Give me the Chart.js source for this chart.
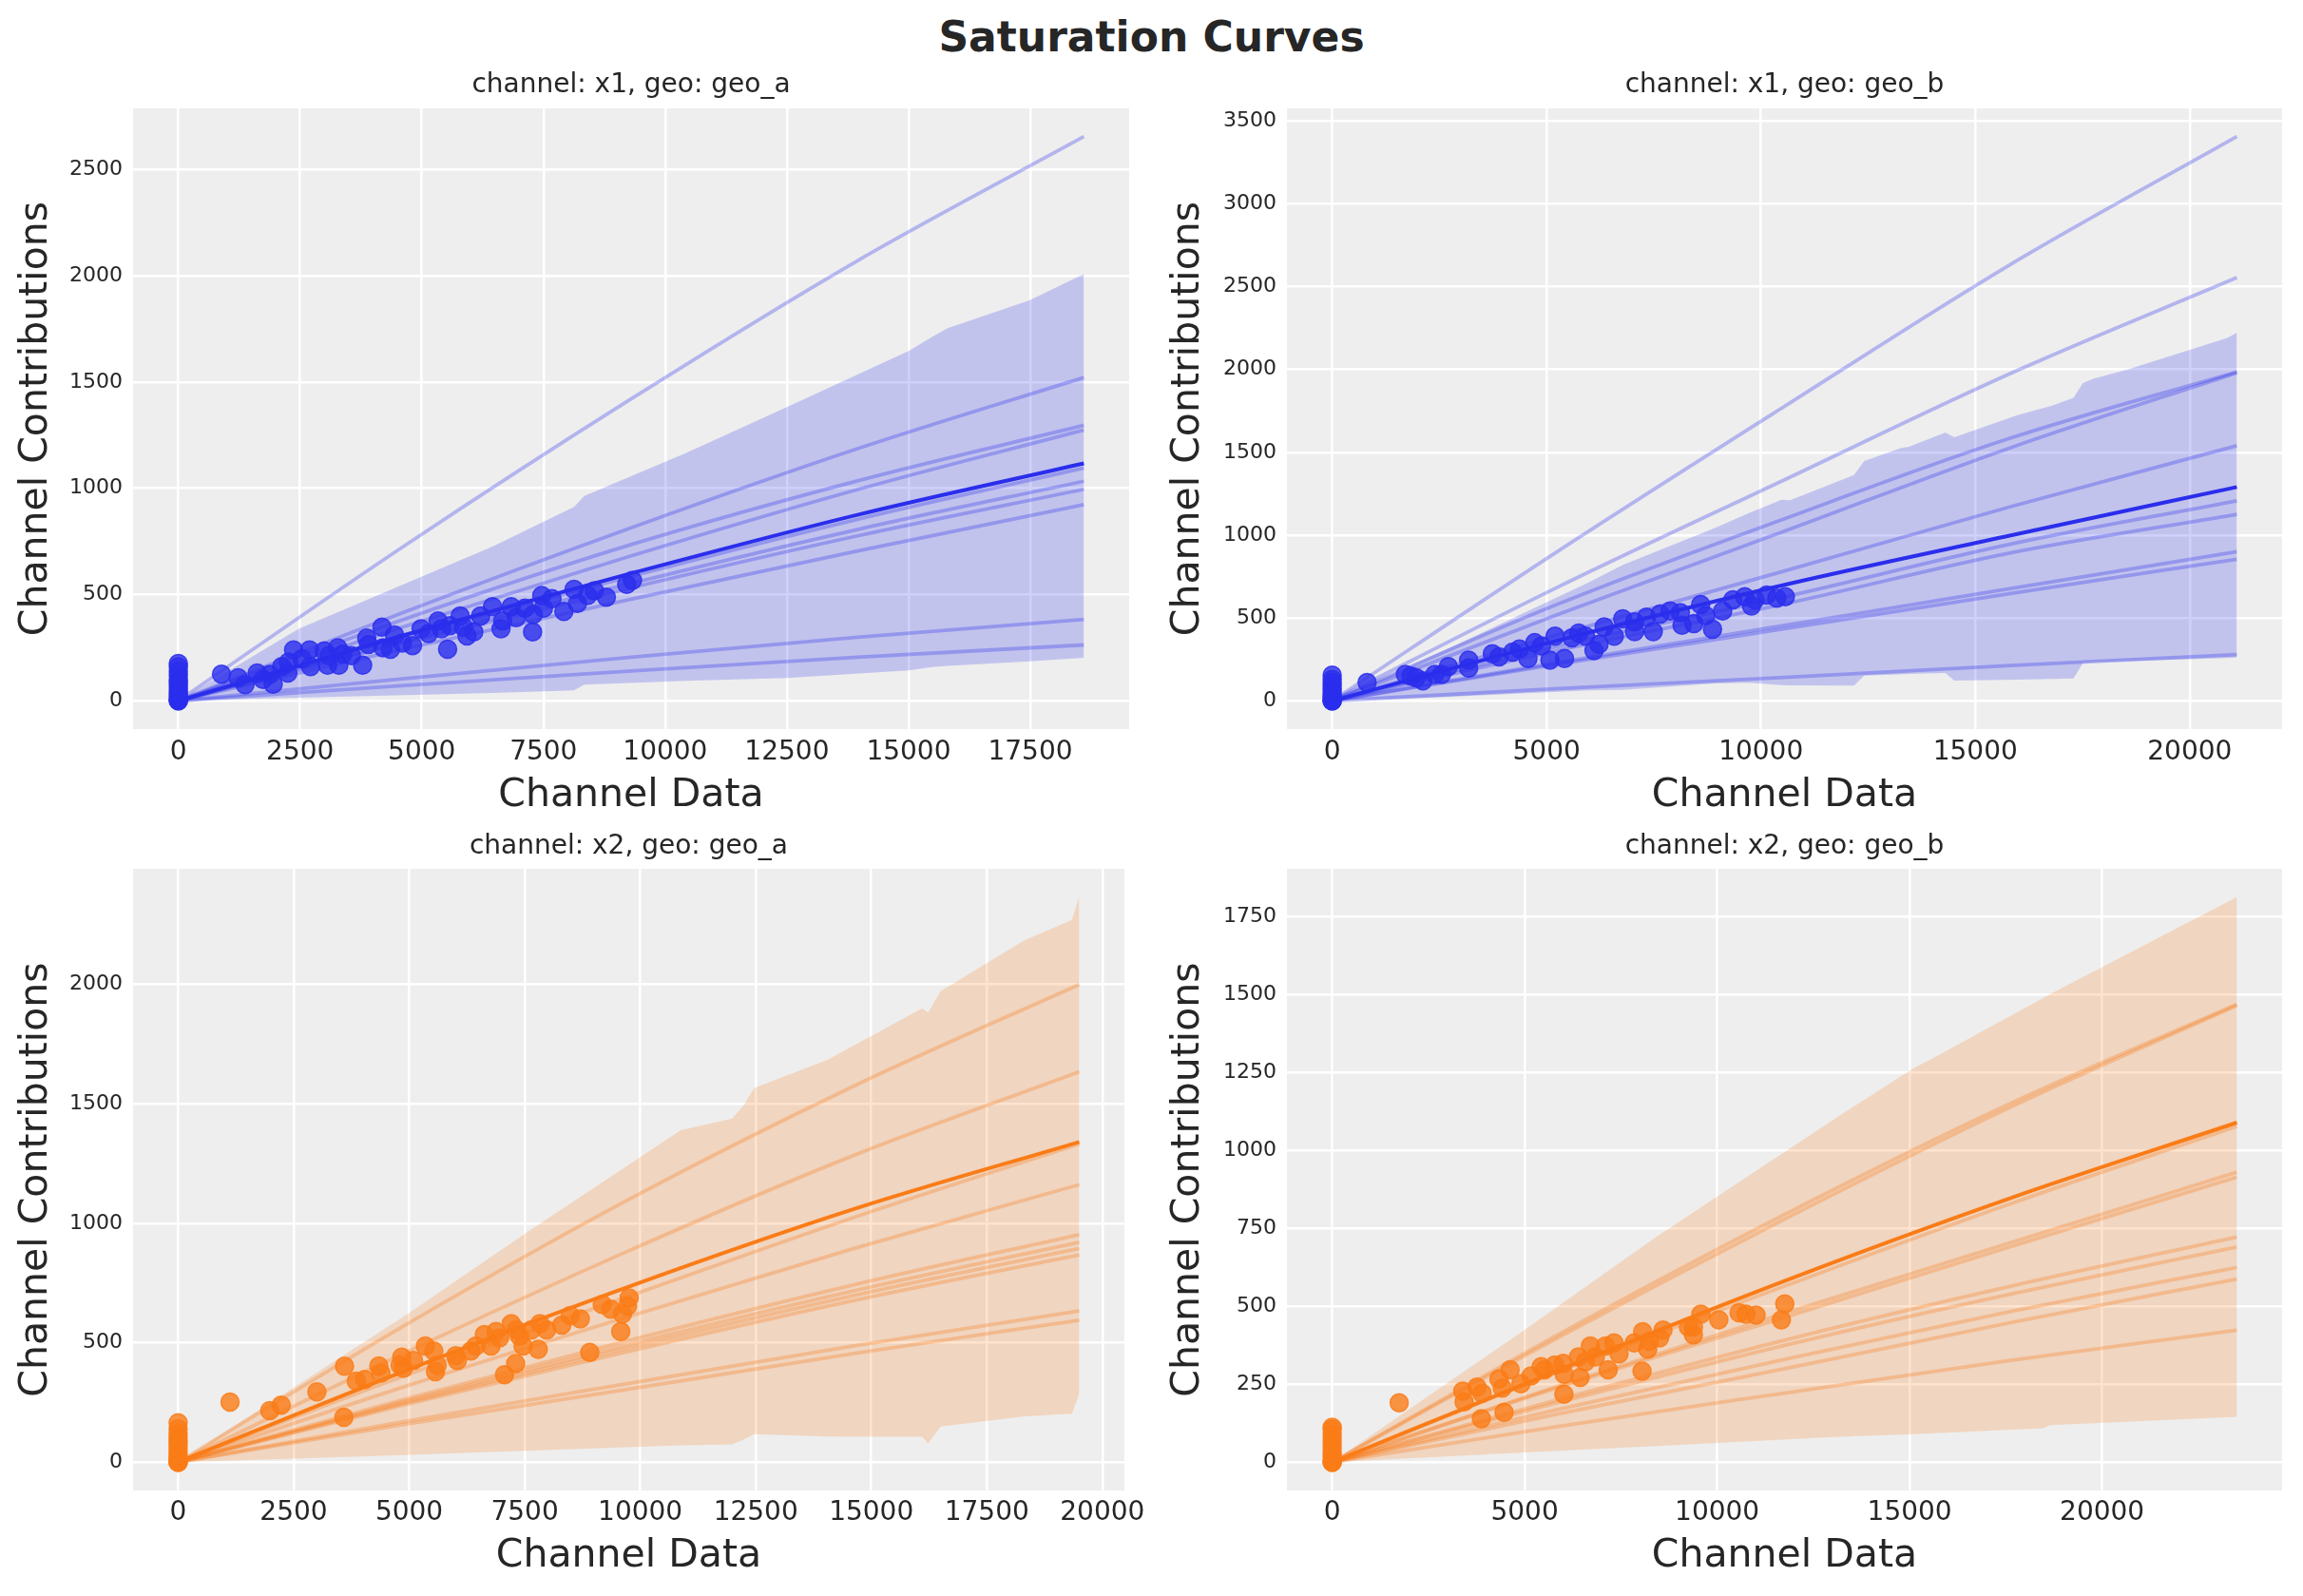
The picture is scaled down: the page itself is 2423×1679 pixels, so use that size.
<!DOCTYPE html>
<html>
<head>
<meta charset="utf-8">
<script src="https://cdn.jsdelivr.net/npm/chart.js@4.4.1/dist/chart.umd.min.js"></script>
<style>
html,body{margin:0;padding:0;background:#ffffff;}
#fig{position:relative;width:2423px;height:1679px;overflow:hidden;background:#ffffff;}
#suptitle{position:absolute;left:0;top:14px;width:2423px;text-align:center;font-family:'DejaVu Sans';font-weight:bold;font-size:44px;line-height:50px;color:#262626;}
canvas{position:absolute;}
</style>
</head>
<body>
<div id="fig">
<div id="suptitle">Saturation Curves</div>
<canvas id="c1" width="1212" height="810" style="left:0px;top:56px;width:1212px;height:810px"></canvas>
<canvas id="c2" width="1211" height="810" style="left:1212px;top:56px;width:1211px;height:810px"></canvas>
<canvas id="c3" width="1212" height="813" style="left:0px;top:866px;width:1212px;height:813px"></canvas>
<canvas id="c4" width="1211" height="813" style="left:1212px;top:866px;width:1211px;height:813px"></canvas>
</div>
<script>
// ---------------- DATA ----------------
const TITLES = ['channel: x1, geo: geo_a', 'channel: x1, geo: geo_b', 'channel: x2, geo: geo_a', 'channel: x2, geo: geo_b'];
const X_LABEL = 'Channel Data';
const Y_LABEL = 'Channel Contributions';

// Panel 1: channel x1, geo_a
const P1_X_TICKS = [0, 2500, 5000, 7500, 10000, 12500, 15000, 17500];
const P1_Y_TICKS = [0, 500, 1000, 1500, 2000, 2500];
const P1_CURVE_X = [0, 4650, 9300, 13950, 18600];
const P1_MEAN = [0, 310, 600, 875, 1117];
const P1_SAMPLES = [
  [0, 730, 1420, 2070, 2654],
  [0, 418, 814, 1186, 1521],
  [0, 385, 735, 1035, 1296],
  [0, 350, 682, 994, 1274],
  [0, 301, 586, 854, 1095],
  [0, 284, 553, 806, 1033],
  [0, 274, 532, 776, 995],
  [0, 245, 478, 705, 923],
  [0, 105, 205, 299, 383],
  [0, 72, 141, 205, 263]
];
const P1_BAND_X = [0, 2472, 6452, 8128, 8338, 10418, 12500, 15000, 15520, 15800, 17480, 18600];
const P1_BAND_HI = [0, 339, 726, 912, 964, 1165, 1382, 1645, 1717, 1753, 1884, 2008];
const P1_BAND_LO = [0, 15, 37, 49, 76, 94, 108, 143, 160, 165, 186, 203];
const P1_PTS_X = [0,0,0,0,0,0,0,0,0,0,0,0,0,0,0,
  887,1229,1369,1620,1739,1878,1948,2123,2249,2367,
  2263,2542,2695,2716,2996,3066,3100,3275,3296,3380,
  3554,3785,3869,3904,4183,4204,4357,4441,4602,4811,
  4986,5140,5335,5405,5531,5580,5789,5859,5929,6068,
  6208,6452,6627,6662,6837,6941,7116,7276,7290,7465,
  7500,7674,7919,8128,8198,8407,8547,8792,9210,9329];
const P1_PTS_Y = [0,0,5,10,20,30,45,60,75,90,100,120,140,160,176,
  126,109,76,131,101,124,79,161,131,240,
  183,198,240,161,235,168,213,250,168,220,
  213,168,295,265,347,250,243,310,272,260,
  339,317,376,339,243,354,399,347,305,324,
  399,443,339,376,443,391,436,324,406,495,
  436,481,421,525,458,495,518,488,548,567];

// Panel 2: channel x1, geo_b
const P2_X_TICKS = [0, 5000, 10000, 15000, 20000];
const P2_Y_TICKS = [0, 500, 1000, 1500, 2000, 2500, 3000, 3500];
const P2_CURVE_X = [0, 5275, 10550, 15825, 21100];
const P2_MEAN = [0, 365, 700, 998, 1290];
const P2_SAMPLES = [
  [0, 905, 1777, 2634, 3405],
  [0, 688, 1334, 1976, 2554],
  [0, 585, 1099, 1586, 1985],
  [0, 522, 1024, 1528, 1980],
  [0, 400, 784, 1172, 1540],
  [0, 330, 628, 946, 1207],
  [0, 305, 585, 893, 1125],
  [0, 232, 455, 678, 900],
  [0, 222, 435, 648, 855],
  [0, 74, 142, 213, 279]
];
const P2_BAND_X = [0, 2750, 5990, 6780, 8910, 9720, 10480, 10680, 12170, 12410, 13250, 13450, 14300, 14510, 15980, 16790, 17290, 17510, 17750, 18550, 20880, 21100];
const P2_BAND_HI = [0, 320, 716, 821, 1042, 1133, 1213, 1210, 1362, 1447, 1524, 1533, 1619, 1590, 1724, 1781, 1829, 1918, 1943, 2000, 2190, 2222];
const P2_BAND_LO = [0, 25, 63, 66, 105, 110, 95, 93, 92, 153, 160, 162, 168, 122, 128, 132, 135, 229, 232, 240, 258, 262];
const P2_PTS_X = [0,0,0,0,0,0,0,0,0,0,0,0,
  814,1706,1840,1959,2117,2393,2551,2709,3183,3183,
  3736,3894,4210,4368,4566,4724,4882,5079,5198,5419,
  5593,5750,5908,6106,6224,6343,6580,6777,7054,7054,
  7330,7488,7646,7883,8160,8120,8436,8594,8713,8871,
  9108,9345,9622,9780,9859,10134,10371,10569];
const P2_PTS_Y = [0,0,0,10,20,35,50,70,90,110,130,155,
  111,159,150,140,121,159,159,207,246,198,
  284,265,294,313,255,351,332,246,390,255,
  380,409,390,303,342,447,390,495,476,418,
  505,418,524,543,457,533,466,581,514,432,
  543,610,629,572,610,639,620,629];

// Panel 3: channel x2, geo_a
const P3_X_TICKS = [0, 2500, 5000, 7500, 10000, 12500, 15000, 17500, 20000];
const P3_Y_TICKS = [0, 500, 1000, 1500, 2000];
const P3_CURVE_X = [0, 4875, 9750, 14625, 19500];
const P3_MEAN = [0, 380, 735, 1060, 1341];
const P3_SAMPLES = [
  [0, 570, 1100, 1575, 2000],
  [0, 455, 885, 1285, 1635],
  [0, 360, 695, 1025, 1332],
  [0, 315, 610, 895, 1162],
  [0, 262, 510, 743, 953],
  [0, 253, 493, 718, 921],
  [0, 246, 479, 698, 895],
  [0, 239, 464, 677, 868],
  [0, 170, 330, 487, 633],
  [0, 158, 306, 455, 595]
];
const P3_BAND_X = [0, 2500, 5000, 7500, 10875, 11990, 12230, 12470, 14050, 16100, 16230, 16500, 18310, 19340, 19500];
const P3_BAND_HI = [0, 312, 625, 956, 1390, 1439, 1492, 1567, 1684, 1900, 1882, 1972, 2185, 2270, 2366];
const P3_BAND_LO = [0, 15, 31, 48, 71, 75, 95, 117, 108, 107, 79, 149, 192, 203, 288];
const P3_PTS_X = [0,0,0,0,0,0,0,0,0,0,0,0,0,0,
  1123,1983,2230,3003,3601,3586,3856,4038,4344,4388,
  4840,4876,4803,5095,5350,5532,5569,5605,6006,6042,
  6334,6444,6626,6771,6881,6954,7063,7209,7304,7318,
  7391,7464,7646,7792,7828,7974,8302,8484,8703,8907,
  9177,9359,9578,9615,9724,9760];
const P3_PTS_Y = [0,0,0,10,20,30,45,60,75,90,105,120,140,165,
  252,216,239,295,402,188,339,346,403,373,
  440,393,406,426,487,466,379,406,446,426,
  466,487,534,487,547,520,366,580,413,554,
  527,487,554,473,580,554,574,614,600,460,
  661,641,547,621,654,688];

// Panel 4: channel x2, geo_b
const P4_X_TICKS = [0, 5000, 10000, 15000, 20000];
const P4_Y_TICKS = [0, 250, 500, 750, 1000, 1250, 1500, 1750];
const P4_CURVE_X = [0, 5875, 11750, 17625, 23500];
const P4_MEAN = [0, 295, 582, 848, 1090];
const P4_SAMPLES = [
  [0, 410, 795, 1152, 1470],
  [0, 400, 780, 1140, 1466],
  [0, 290, 565, 830, 1078],
  [0, 245, 478, 705, 931],
  [0, 240, 465, 692, 915],
  [0, 201, 392, 565, 723],
  [0, 192, 375, 540, 691],
  [0, 170, 330, 484, 625],
  [0, 155, 300, 448, 588],
  [0, 115, 222, 327, 424]
];
const P4_BAND_X = [0, 5000, 8418, 13147, 15134, 15515, 18468, 18654, 23500];
const P4_BAND_HI = [0, 425, 723, 1110, 1267, 1291, 1490, 1503, 1814];
const P4_BAND_LO = [0, 31, 52, 82, 90, 92, 109, 119, 146];
const P4_PTS_X = [0,0,0,0,0,0,0,0,0,0,0,0,
  1740,3392,3427,3761,3893,3875,4332,4420,4464,4622,
  4903,5167,5430,5518,5782,6001,6028,6019,6397,6441,
  6573,6705,6836,7100,7170,7320,7451,7847,8066,8049,
  8198,8242,8506,8594,9253,9385,9385,9578,10043,10570,
  10746,11010,11669,11757];
const P4_PTS_Y = [0,0,0,10,20,30,45,60,75,90,105,112,
  191,228,194,241,221,140,267,238,160,297,
  252,277,307,297,312,317,282,218,338,272,
  322,373,338,373,297,383,348,383,419,292,
  363,388,399,424,434,409,434,475,457,480,
  475,472,457,508];

// ---------------- STYLE ----------------
const FONT = 'DejaVu Sans';
const TXT = '#262626';
const BLUE = '42,46,236';
const ORANGE = '250,124,23';

const bgPlugin = {
  id: 'axesBg',
  beforeDraw(chart) {
    const {ctx, chartArea: a} = chart;
    ctx.save();
    ctx.fillStyle = '#eeeeee';
    ctx.fillRect(a.left, a.top, a.right - a.left, a.bottom - a.top);
    ctx.restore();
  }
};

function pts(xs, ys) { return xs.map((x, i) => ({x: x, y: ys[i]})); }

function makePanel(canvasId, p) {
  const allY = [].concat(p.mean, ...p.samples, p.bandHi, p.bandLo, p.ptsY);
  const allX = [].concat(p.curveX, p.bandX, p.ptsX);
  const ymin = Math.min(...allY), ymax = Math.max(...allY);
  const xmin = Math.min(...allX), xmax = Math.max(...allX);
  const ym = 0.05 * (ymax - ymin), xm = 0.05 * (xmax - xmin);

  const datasets = [];
  datasets.push({
    data: pts(p.ptsX, p.ptsY), showLine: false, pointRadius: 9.5, pointHoverRadius: 9.5,
    pointBorderWidth: 1.5, pointBackgroundColor: `rgba(${p.rgb},0.8)`,
    pointBorderColor: `rgba(${p.rgb},0.85)`, order: 0, fill: false
  });
  datasets.push({
    data: pts(p.curveX, p.mean), borderColor: `rgb(${p.rgb})`, borderWidth: 4,
    pointRadius: 0, cubicInterpolationMode: 'monotone', order: 1, fill: false
  });
  p.samples.forEach(s => datasets.push({
    data: pts(p.curveX, s), borderColor: `rgba(${p.rgb},0.3)`, borderWidth: 3.8,
    pointRadius: 0, cubicInterpolationMode: 'monotone', order: 2, fill: false
  }));
  datasets.push({
    data: pts(p.bandX, p.bandLo), borderColor: 'rgba(0,0,0,0)', borderWidth: 0,
    pointRadius: 0, tension: 0, order: 3, fill: false
  });
  datasets.push({
    data: pts(p.bandX, p.bandHi), borderColor: 'rgba(0,0,0,0)', borderWidth: 0,
    pointRadius: 0, tension: 0, order: 3, fill: '-1',
    backgroundColor: `rgba(${p.rgb},${p.bandAlpha})`
  });

  new Chart(document.getElementById(canvasId), {
    type: 'line',
    data: {datasets: datasets},
    plugins: [bgPlugin],
    options: {
      responsive: false, animation: false, devicePixelRatio: 1, events: [],
      layout: {padding: {left: 0, right: p.padRight, top: 0, bottom: 0}},
      plugins: {
        legend: {display: false}, tooltip: {enabled: false},
        title: {
          display: true, text: p.title, fullSize: false, color: TXT,
          font: {family: FONT, size: 28, weight: 'normal', lineHeight: 1.2},
          padding: {top: p.titleTop, bottom: p.titleBottom}
        }
      },
      scales: {
        x: {
          type: 'linear', bounds: 'data', min: xmin - xm, max: xmax + xm,
          afterBuildTicks: s => { s.ticks = p.xTicks.map(v => ({value: v})); },
          afterFit: s => { s.height = p.xAxisH; },
          grid: {color: '#ffffff', lineWidth: 2.5, drawTicks: false},
          border: {display: false},
          ticks: {color: TXT, font: {family: FONT, size: 28, lineHeight: 1.2}, padding: p.xTickPad,
                  maxRotation: 0, autoSkip: false, callback: v => String(v)},
          title: {display: true, text: X_LABEL, color: TXT,
                  font: {family: FONT, size: 41, lineHeight: 1.2}, padding: {top: 0, bottom: p.xTitlePad}}
        },
        y: {
          type: 'linear', bounds: 'data', min: ymin - ym, max: ymax + ym,
          afterBuildTicks: s => { s.ticks = p.yTicks.map(v => ({value: v})); },
          afterFit: s => { s.width = p.yAxisW; },
          grid: {color: '#ffffff', lineWidth: 2.5, drawTicks: false},
          border: {display: false},
          ticks: {color: TXT, font: {family: FONT, size: 22, lineHeight: 1.2}, padding: 11,
                  autoSkip: false, callback: v => String(v)},
          title: {display: true, text: Y_LABEL, color: TXT,
                  font: {family: FONT, size: 41, lineHeight: 1.2}, padding: {top: 14, bottom: 0}}
        }
      }
    }
  });
}

const TOP_ROW = {titleTop: 16.5, titleBottom: 7.9, xAxisH: 99, xTickPad: 8, xTitlePad: 3.6};
const BOTTOM_ROW = {titleTop: 8, titleBottom: 6.4, xAxisH: 111, xTickPad: 7, xTitlePad: 16.6};

makePanel('c1', Object.assign({}, TOP_ROW, {
  title: TITLES[0], rgb: BLUE, bandAlpha: 0.22, yAxisW: 140, padRight: 24,
  xTicks: P1_X_TICKS, yTicks: P1_Y_TICKS, curveX: P1_CURVE_X, mean: P1_MEAN, samples: P1_SAMPLES,
  bandX: P1_BAND_X, bandHi: P1_BAND_HI, bandLo: P1_BAND_LO, ptsX: P1_PTS_X, ptsY: P1_PTS_Y
}));
makePanel('c2', Object.assign({}, TOP_ROW, {
  title: TITLES[1], rgb: BLUE, bandAlpha: 0.22, yAxisW: 142, padRight: 22,
  xTicks: P2_X_TICKS, yTicks: P2_Y_TICKS, curveX: P2_CURVE_X, mean: P2_MEAN, samples: P2_SAMPLES,
  bandX: P2_BAND_X, bandHi: P2_BAND_HI, bandLo: P2_BAND_LO, ptsX: P2_PTS_X, ptsY: P2_PTS_Y
}));
makePanel('c3', Object.assign({}, BOTTOM_ROW, {
  title: TITLES[2], rgb: ORANGE, bandAlpha: 0.21, yAxisW: 140, padRight: 24,
  xTicks: P3_X_TICKS, yTicks: P3_Y_TICKS, curveX: P3_CURVE_X, mean: P3_MEAN, samples: P3_SAMPLES,
  bandX: P3_BAND_X, bandHi: P3_BAND_HI, bandLo: P3_BAND_LO, ptsX: P3_PTS_X, ptsY: P3_PTS_Y
}));
makePanel('c4', Object.assign({}, BOTTOM_ROW, {
  title: TITLES[3], rgb: ORANGE, bandAlpha: 0.21, yAxisW: 142, padRight: 22,
  xTicks: P4_X_TICKS, yTicks: P4_Y_TICKS, curveX: P4_CURVE_X, mean: P4_MEAN, samples: P4_SAMPLES,
  bandX: P4_BAND_X, bandHi: P4_BAND_HI, bandLo: P4_BAND_LO, ptsX: P4_PTS_X, ptsY: P4_PTS_Y
}));
</script>
</body>
</html>
